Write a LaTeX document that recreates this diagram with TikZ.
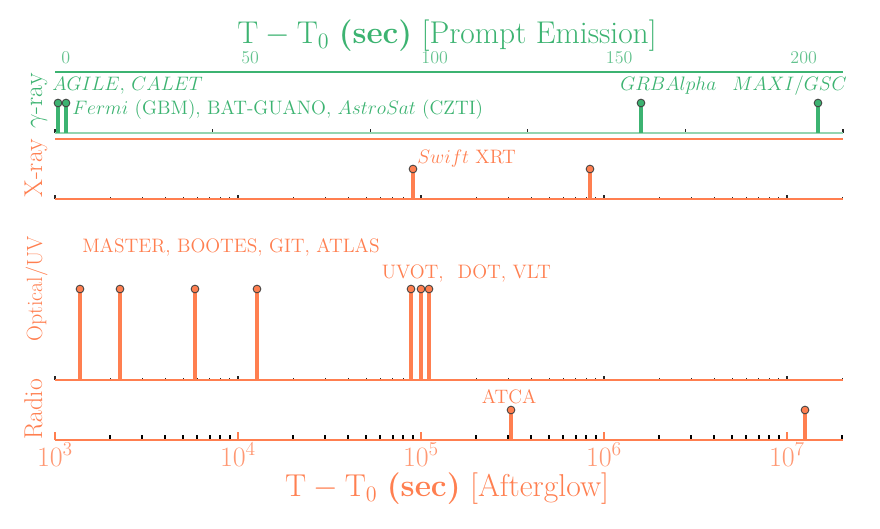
\RequirePackage{fix-cm}
\documentclass[tikz,border=0pt]{standalone}
\usepackage{fontspec}
\definecolor{grn}{RGB}{60,179,113}
\definecolor{org}{RGB}{255,127,80}
\newcommand{\myfs}[1]{\fontsize{#1}{#1}\selectfont}
\newcommand{\logticks}[5]{%
  \foreach \k in {0,...,4}{\draw[#2] (55+183*\k,#1) -- ++(0,-#3);}%
  \foreach \k in {0,...,4}{\foreach \m in {2,...,9}{%
     \pgfmathsetmacro\xx{55+183*\k+183*log10(\m)}%
     \ifdim\xx pt<843.5pt \draw[#4] (\xx,#1) -- ++(0,-#5);\fi}}%
}
\tikzset{
  stemg/.style={grn, line width=2.6pt},
  stemo/.style={org, line width=2.6pt},
  dotg/.style={circle, fill=grn, draw=black!75, line width=0.65pt, inner sep=0pt, minimum size=5.8pt},
  doto/.style={circle, fill=org, draw=black!75, line width=0.65pt, inner sep=0pt, minimum size=5.8pt},
  majtick/.style={black!85, line width=0.8pt},
  mintick/.style={black!85, line width=0.6pt},
  radmin/.style={black, line width=1.6pt},
  radmaj/.style={org, line width=1.6pt},
  spine/.style={line width=1.6pt},
  lblg/.style={anchor=base west, inner sep=0pt, text=grn, font=\myfs{14.6}},
  lblo/.style={anchor=base west, inner sep=0pt, text=org, font=\myfs{14.6}},
  ylab/.style={rotate=90, anchor=base, inner sep=0pt, font=\myfs{19.3}},
}
\begin{document}
\begin{tikzpicture}[x=0.75pt,y=-0.75pt]
\useasboundingbox (0,0) rectangle (880,528);

% ---------- top title and ticks (prompt emission) ----------
\node[anchor=base, inner sep=0pt, text=grn, font=\myfs{23.6}] (ttop) at (447,43.5)
  {$\mathrm{T}-\mathrm{T}_0$ \textbf{(sec)} [Prompt Emission]};
\foreach \v/\xx in {0/65.7,50/250.2,100/434.7,150/619.2,200/803.7}
  \node[anchor=base, inner sep=0pt, text=grn!80, font=\myfs{13.5}] (tl\v) at (\xx,63.5) {\v};

% ---------- gamma-ray panel ----------
\draw[spine, grn] (55,72) -- (843,72);
\foreach \k in {0,...,5} \draw[majtick] (55+157.6*\k,133) -- ++(0,-4);
\draw[spine, grn!55] (55,133) -- (843,133);
\foreach \i/\xx in {1/58,2/66,3/641,4/818}{
  \coordinate (gb\i) at (\xx,133);
  \coordinate (gt\i) at (\xx,103);
  \draw[stemg] (gb\i) -- (gt\i);
  \node[dotg] (gd\i) at (gt\i) {};
}
\node[lblg] (agile) at (52,90.7) {$AGILE,\,CALET$};
\node[lblg] (fermi) at (72,114.3) {$Fermi$ (GBM), BAT-GUANO, $AstroSat$ (CZTI)};
\node[lblg] (grba) at (620,90.7) {$GRBAlpha$};
\node[lblg] (maxi) at (732,90.7) {$MAXI/GSC$};

% ---------- X-ray panel ----------
\draw[spine, org] (55,139) -- (843,139);
\logticks{199}{majtick}{4}{mintick}{2.5}
\draw[spine, org] (55,199) -- (843,199);
\foreach \i/\xx in {1/413,2/590}{
  \coordinate (xb\i) at (\xx,199);
  \coordinate (xt\i) at (\xx,169);
  \draw[stemo] (xb\i) -- (xt\i);
  \node[doto] (xd\i) at (xt\i) {};
}
\node[lblo] (swift) at (417,163) {$Swift$ XRT};

% ---------- Optical/UV panel ----------
\logticks{380}{majtick}{4}{mintick}{2.5}
\draw[spine, org] (55,380) -- (843,380);
\foreach \i/\xx in {1/80,2/120,3/195,4/257,5/411,6/421,7/429}{
  \coordinate (ob\i) at (\xx,380);
  \coordinate (ot\i) at (\xx,289);
  \draw[stemo] (ob\i) -- (ot\i);
  \node[doto] (od\i) at (ot\i) {};
}
\node[lblo] (master) at (82,252.7) {MASTER, BOOTES, GIT, ATLAS};
\node[lblo] (uvot) at (381.5,278) {UVOT,\hspace{10.5pt}DOT, VLT};

% ---------- Radio panel ----------
\logticks{440}{radmaj}{8}{radmin}{5}
\draw[spine, org] (55,440) -- (843,440);
\foreach \i/\xx in {1/511,2/805}{
  \coordinate (rb\i) at (\xx,440);
  \coordinate (rt\i) at (\xx,410);
  \draw[stemo] (rb\i) -- (rt\i);
  \node[doto] (rd\i) at (rt\i) {};
}
\node[lblo] (atca) at (481.7,403) {ATCA};

% ---------- bottom axis labels ----------
\foreach \e/\xx in {3/55,4/238,5/421,6/604,7/787}
  \node[anchor=base, inner sep=0pt, text=org!80, font=\myfs{21}] (bl\e) at (\xx,466) {$10^{\e}$};
\node[anchor=base, inner sep=0pt, text=org, font=\myfs{23.7}] (tbot) at (447,496.5)
  {$\mathrm{T}-\mathrm{T}_0$ \textbf{(sec)} [Afterglow]};

% ---------- panel labels ----------
\node[ylab, text=grn] (lgam) at (42,101) {$\gamma$-ray};
\node[ylab, text=org] (lxr) at (42,168.5) {X-ray};
\node[ylab, text=org, font=\myfs{16.5}] (lopt) at (42,289) {Optical/UV};
\node[ylab, text=org] (lrad) at (42,409.5) {Radio};
\end{tikzpicture}
\end{document}
